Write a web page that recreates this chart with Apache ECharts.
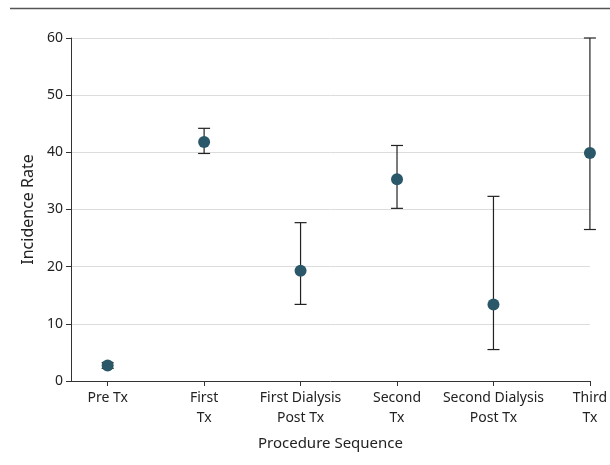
<!DOCTYPE html>
<html>
<head>
<meta charset="utf-8">
<script src="https://cdn.jsdelivr.net/npm/echarts@6/dist/echarts.min.js"></script>
<style>html,body{margin:0;padding:0;background:#fff;}#c{width:610px;height:465px;}</style>
</head>
<body>
<div id="c"></div>
<script>
const categories = ['Pre Tx', 'First\nTx', 'First Dialysis\nPost Tx', 'Second\nTx', 'Second Dialysis\nPost Tx', 'Third\nTx'];
const rates = [2.7, 41.8, 19.3, 35.3, 13.4, 39.9];
const lower = [2.2, 39.8, 13.4, 30.2, 5.5, 26.5];
const upper = [3.2, 44.2, 27.7, 41.2, 32.3, 60.0];
const yTicks = [0, 10, 20, 30, 40, 50, 60];

const idx = categories.map((_, i) => i);
const chart = echarts.init(document.getElementById('c'), null, {renderer: 'canvas'});
const font = 'Noto Sans';
chart.setOption({
  animation: false,
  graphic: [{
    type: 'line', shape: {x1: 10, y1: 8.5, x2: 610, y2: 8.5},
    style: {stroke: '#555', lineWidth: 1.5}
  }],
  grid: {left: 71, right: 17, top: 38, bottom: 84},
  xAxis: {
    type: 'value', min: -0.38, max: 5,
    name: 'Procedure Sequence', nameLocation: 'middle', nameGap: 55,
    nameTextStyle: {fontFamily: font, fontSize: 15, color: '#222'},
    axisLine: {show: true, onZero: false, lineStyle: {color: '#333', width: 1}},
    axisTick: {show: true, customValues: idx, length: 5, lineStyle: {color: '#333'}},
    axisLabel: {customValues: idx, formatter: v => categories[Math.round(v)], fontFamily: font, fontSize: 14, color: '#222', lineHeight: 20, margin: 7},
    splitLine: {show: false}
  },
  yAxis: {
    type: 'value', min: 0, max: 60, interval: 10,
    name: 'Incidence Rate', nameLocation: 'middle', nameGap: 34, nameRotate: 90,
    nameTextStyle: {fontFamily: font, fontSize: 16, color: '#222'},
    axisLine: {show: true, onZero: false, lineStyle: {color: '#333', width: 1}},
    axisTick: {show: true, length: 5, lineStyle: {color: '#333'}},
    axisLabel: {customValues: yTicks, fontFamily: font, fontSize: 14, color: '#222', margin: 8, formatter: v => String(v)},
    splitLine: {show: true, lineStyle: {color: '#dcdcdc', width: 1}}
  },
  series: [{
    type: 'custom',
    data: idx.map(i => [i, lower[i], upper[i]]),
    renderItem: (params, api) => {
      const x = api.value(0);
      const lo = api.coord([x, api.value(1)]);
      const hi = api.coord([x, api.value(2)]);
      const w = 6;
      const st = {stroke: '#222', lineWidth: 1.2};
      return {type: 'group', children: [
        {type: 'line', shape: {x1: lo[0], y1: lo[1], x2: hi[0], y2: hi[1]}, style: st},
        {type: 'line', shape: {x1: lo[0] - w, y1: lo[1], x2: lo[0] + w, y2: lo[1]}, style: st},
        {type: 'line', shape: {x1: hi[0] - w, y1: hi[1], x2: hi[0] + w, y2: hi[1]}, style: st}
      ]};
    },
    z: 2
  }, {
    type: 'scatter',
    data: idx.map(i => [i, rates[i]]),
    symbolSize: 12,
    itemStyle: {color: '#2a5868', opacity: 1},
    z: 3
  }]
});
</script>
</body>
</html>
